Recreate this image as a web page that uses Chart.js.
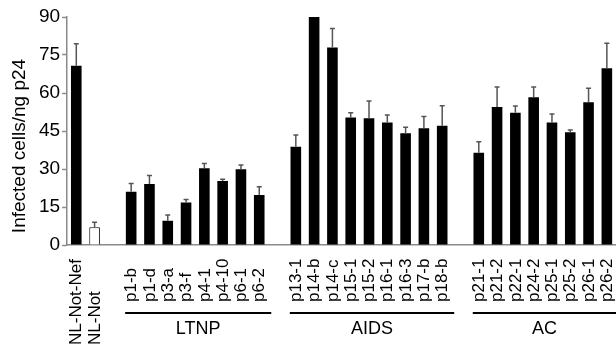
<!DOCTYPE html>
<html>
<head>
<meta charset="utf-8">
<script src="https://cdn.jsdelivr.net/npm/chart.js@4/dist/chart.umd.min.js"></script>
<style>
html,body{margin:0;padding:0;background:#fff;}
#wrap{width:616px;height:346px;position:relative;}
</style>
</head>
<body>
<div id="wrap"><canvas id="c" width="616" height="346"></canvas></div>
<script>
// ---- data ----
const categories = ['NL-Not-Nef','NL-Not',' ',
  'p1-b','p1-d','p3-a','p3-f','p4-1','p4-10','p6-1','p6-2','  ',
  'p13-1','p14-b','p14-c','p15-1','p15-2','p16-1','p16-3','p17-b','p18-b','   ',
  'p21-1','p21-2','p22-1','p24-2','p25-1','p25-2','p26-1','p26-2'];
const values = [70.8, 7.0, null,
  21.0, 24.1, 9.6, 16.8, 30.3, 25.3, 29.9, 19.7, null,
  38.8, 90, 78.0, 50.3, 50.0, 48.4, 44.1, 46.1, 47.1, null,
  36.4, 54.5, 52.2, 58.3, 48.4, 44.5, 56.3, 69.8];
const errors = [8.6, 2.0, null,
  3.3, 3.3, 2.2, 1.2, 1.9, 0.7, 1.7, 3.3, null,
  4.6, null, 7.5, 1.9, 6.8, 2.9, 2.4, 4.6, 7.9, null,
  4.4, 7.9, 2.7, 4.1, 3.3, 0.9, 5.6, 9.8];
const controls = ['NL-Not-Nef','NL-Not'];
const groupNames = ['LTNP','AIDS','AC'];
const groupFirst = ['p1-b','p13-1','p21-1'];
const groupLast = ['p6-2','p18-b','p26-2'];
const yTicks = [0,15,30,45,60,75,90];
const yTitle = 'Infected cells/ng p24';

const FONT = '"Liberation Sans", Arial, Helvetica, sans-serif';

const fills = categories.map(c => c === 'NL-Not' ? '#ffffff' : '#000000');

const customPlugin = {
  id: 'custom',
  afterDatasetsDraw(chart) {
    const ctx = chart.ctx;
    const xs = chart.scales.x, ys = chart.scales.y;
    // error bars
    ctx.save();
    ctx.strokeStyle = '#555555';
    ctx.lineWidth = 1.5;
    values.forEach((v, i) => {
      const e = errors[i];
      if (v == null || e == null) return;
      const x = xs.getPixelForValue(i);
      const y0 = ys.getPixelForValue(v);
      const y1 = ys.getPixelForValue(v + e);
      ctx.beginPath();
      ctx.moveTo(x, y0);
      ctx.lineTo(x, y1);
      ctx.moveTo(x - 2.5, y1);
      ctx.lineTo(x + 2.5, y1);
      ctx.stroke();
    });
    ctx.restore();
  },
  afterDraw(chart) {
    const ctx = chart.ctx;
    const xs = chart.scales.x;
    const bottom = chart.chartArea.bottom;
    ctx.save();
    // y-axis title
    ctx.fillStyle = '#000';
    ctx.font = '19px ' + FONT;
    ctx.textAlign = 'center';
    ctx.textBaseline = 'middle';
    ctx.save();
    ctx.translate(20, chart.chartArea.top + 129);
    ctx.rotate(-Math.PI / 2);
    ctx.fillText(yTitle, 0, 0);
    ctx.restore();
    // rotated category labels, starting from the bottom
    ctx.font = '17px ' + FONT;
    ctx.textAlign = 'left';
    ctx.textBaseline = 'middle';
    categories.forEach((c, i) => {
      if (!c.trim()) return;
      const x = xs.getPixelForValue(i);
      const y = bottom + (controls.includes(c) ? 100 : 57);
      ctx.save();
      ctx.translate(x + 0.5, y);
      ctx.rotate(-Math.PI / 2);
      ctx.fillText(c, 0, 0);
      ctx.restore();
    });
    // group lines and names
    ctx.strokeStyle = '#000';
    ctx.lineWidth = 2;
    ctx.font = '18px ' + FONT;
    ctx.textAlign = 'center';
    ctx.textBaseline = 'middle';
    groupNames.forEach((g, k) => {
      const a = xs.getPixelForValue(categories.indexOf(groupFirst[k])) - 6;
      const b = Math.min(chart.width, xs.getPixelForValue(categories.indexOf(groupLast[k])) + 12);
      const ly = bottom + 68;
      ctx.beginPath();
      ctx.moveTo(a, ly);
      ctx.lineTo(b, ly);
      ctx.stroke();
      ctx.fillText(g, (a + b) / 2, bottom + 84);
    });
    ctx.restore();
  }
};

new Chart(document.getElementById('c'), {
  type: 'bar',
  data: {
    labels: categories,
    datasets: [{
      data: values,
      backgroundColor: fills,
      borderColor: '#000',
      borderWidth: categories.map(c => c === 'NL-Not' ? 1 : 0),
      barPercentage: 0.58,
      categoryPercentage: 1.0
    }]
  },
  options: {
    responsive: false,
    animation: false,
    devicePixelRatio: 1,
    layout: { padding: { left: 37, right: 0, top: 17, bottom: 101 } },
    plugins: { legend: { display: false }, tooltip: { enabled: false } },
    scales: {
      x: {
        offset: true,
        grid: { display: false, drawTicks: false },
        border: { display: true, color: '#8a8a8a', width: 1.5 },
        ticks: { display: false }
      },
      y: {
        min: 0, max: 90,
        afterBuildTicks(scale) { scale.ticks = yTicks.map(v => ({ value: v })); },
        grid: { drawOnChartArea: false, drawTicks: true, tickLength: 5, color: '#8a8a8a', tickWidth: 1.5 },
        border: { display: true, color: '#8a8a8a', width: 1.5 },
        ticks: { color: '#000', font: { family: FONT, size: 19 }, padding: 2 },
        title: { display: false }
      }
    }
  },
  plugins: [customPlugin]
});
</script>
</body>
</html>
